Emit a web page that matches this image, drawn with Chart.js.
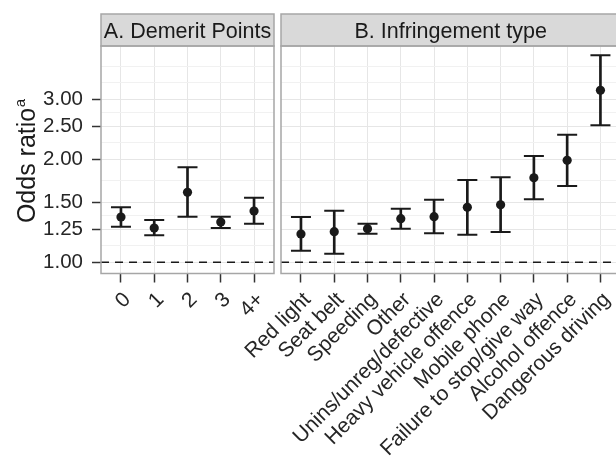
<!DOCTYPE html>
<html><head><meta charset="utf-8">
<script src="https://cdn.jsdelivr.net/npm/chart.js@4"></script>
<style>
html,body{margin:0;padding:0;background:#fff;overflow:hidden;width:616px;height:457px}
#wrap{position:relative;width:616px;height:457px;overflow:hidden}
canvas{position:absolute;top:0}
</style></head><body>
<div id="wrap">
<canvas id="chartA" width="276" height="457" style="left:0"></canvas>
<canvas id="chartB" width="426" height="457" style="left:200px"></canvas>
</div>
<script>
// ---- data ----
const demeritCategories = ['0','1','2','3','4+'];
const demeritOR    = [1.357, 1.260, 1.603, 1.312, 1.413];
const demeritLower = [1.271, 1.200, 1.360, 1.260, 1.297];
const demeritUpper = [1.449, 1.330, 1.897, 1.360, 1.545];

const infringementCategories = ['Red light','Seat belt','Speeding','Other','Unins/unreg/defective','Heavy vehicle offence','Mobile phone','Failure to stop/give way','Alcohol offence','Dangerous driving'];
const infringementOR    = [1.210, 1.229, 1.254, 1.342, 1.360, 1.449, 1.474, 1.768, 1.988, 3.187];
const infringementLower = [1.081, 1.060, 1.213, 1.254, 1.216, 1.204, 1.226, 1.529, 1.672, 2.517];
const infringementUpper = [1.357, 1.416, 1.297, 1.435, 1.525, 1.741, 1.773, 2.047, 2.363, 4.034];

const yTickValues = [1.00, 1.25, 1.50, 2.00, 2.50, 3.00];
const referenceValue = 1.00;
const panelTitles = ['A. Demerit Points', 'B. Infringement type'];
const yTitle = 'Odds ratio';
const yTitleSup = 'a';

// ---- styling / layout ----
const FONT = '"Liberation Sans", Arial, Helvetica, sans-serif';
const INK = '#1a1a1a';
const Y_MIN = 0.9273, Y_MAX = 4.297;
const TOP = 46, STRIP_TOP = 14;
const X_H = 457 - 273.5;

// minor grid (midpoints in log space, like ggplot)
const logs = yTickValues.map(Math.log);
const bd = logs[1] - logs[0];
const ext = [logs[0] - bd, ...logs, logs[logs.length - 1] + bd];
const gridLogs = [];
for (let i = 0; i < ext.length - 1; i++) { gridLogs.push(ext[i], (ext[i] + ext[i + 1]) / 2); }
gridLogs.push(ext[ext.length - 1]);
const gridValues = gridLogs.map(Math.exp).filter(v => v >= Y_MIN && v <= Y_MAX);
const isMajor = t => t && yTickValues.some(m => Math.abs(m - t.value) < 1e-9);

function noPad(s) { s.paddingLeft = 0; s.paddingRight = 0; s.paddingTop = 0; s.paddingBottom = 0; }

function yScale(showLabels, width) {
  return {
    type: 'logarithmic', min: Y_MIN, max: Y_MAX,
    afterBuildTicks: s => { s.ticks = gridValues.map(v => ({ value: v })); },
    afterFit: s => { s.width = width; noPad(s); },
    ticks: {
      display: showLabels, autoSkip: false, padding: 9, color: '#262626',
      font: { family: FONT, size: 20.5 },
      callback: v => { const m = yTickValues.find(t => Math.abs(t - v) < 1e-9); return m === undefined ? '' : m.toFixed(2); }
    },
    grid: {
      color: c => isMajor(c.tick) ? '#e6e6e6' : '#f1f1f1',
      lineWidth: 1, drawTicks: showLabels, tickLength: 9, tickWidth: 1.5,
      tickColor: c => isMajor(c.tick) ? '#333' : 'rgba(0,0,0,0)'
    },
    border: { display: false }
  };
}
function xScale(cats) {
  return {
    type: 'linear', min: -0.6, max: cats.length - 1 + 0.6, offset: false,
    afterBuildTicks: s => { s.ticks = cats.map((c, i) => ({ value: i })); },
    afterFit: s => { s.height = X_H; noPad(s); },
    ticks: {
      autoSkip: false, minRotation: 45, maxRotation: 45, padding: 5, labelOffset: 6.5, color: '#262626',
      font: { family: FONT, size: 21 },
      callback: v => cats[v]
    },
    grid: { offset: false, color: '#e6e6e6', lineWidth: 1, tickLength: 9, tickWidth: 1.5, tickColor: '#333' },
    border: { display: false }
  };
}

function panelPlugin(title, drawYTitle) {
  return {
    id: 'panel',
    beforeDatasetsDraw(chart) {
      const { ctx, chartArea: a, scales } = chart;
      const y = scales.y.getPixelForValue(referenceValue);
      ctx.save();
      ctx.strokeStyle = INK; ctx.lineWidth = 1.6; ctx.setLineDash([8, 6]);
      ctx.beginPath(); ctx.moveTo(a.left, y); ctx.lineTo(a.right, y); ctx.stroke();
      ctx.restore();
    },
    afterDraw(chart) {
      const { ctx, chartArea: a } = chart;
      ctx.save();
      ctx.fillStyle = '#d9d9d9';
      ctx.fillRect(a.left, STRIP_TOP, a.right - a.left, a.top - STRIP_TOP);
      ctx.strokeStyle = '#a6a6a6'; ctx.lineWidth = 1.5;
      ctx.strokeRect(a.left, STRIP_TOP, a.right - a.left, a.top - STRIP_TOP);
      ctx.strokeRect(a.left, a.top, a.right - a.left, a.bottom - a.top);
      ctx.fillStyle = INK; ctx.font = '21.5px ' + FONT;
      ctx.textAlign = 'center'; ctx.textBaseline = 'alphabetic';
      ctx.fillText(title, (a.left + a.right) / 2, 37.5);
      if (drawYTitle) {
        ctx.font = '25px ' + FONT;
        const w1 = ctx.measureText(yTitle).width;
        ctx.font = '15px ' + FONT;
        const w2 = ctx.measureText(yTitleSup).width;
        const cy = (a.top + a.bottom) / 2 + 1.5;
        const start = cy + (w1 + w2) / 2;
        ctx.translate(35, 0); ctx.rotate(-Math.PI / 2);
        ctx.textAlign = 'left';
        ctx.font = '25px ' + FONT; ctx.fillStyle = '#1a1a1a';
        ctx.fillText(yTitle, -start, 0);
        ctx.font = '15px ' + FONT;
        ctx.fillText(yTitleSup, -start + w1 + 0.5, -10);
      }
      ctx.restore();
    }
  };
}

function makeChart(id, cats, or, lo, hi, title, yOpts, padRight, isFirst) {
  const pts = arr => cats.map((c, i) => ({ x: i, y: arr[i] }));
  return new Chart(document.getElementById(id), {
    type: 'bar',
    data: {
      datasets: [
        { type: 'bar', data: cats.map((c, i) => ({ x: i, y: [lo[i], hi[i]] })), backgroundColor: INK, barThickness: 2, order: 4 },
        { type: 'line', data: pts(hi), showLine: false, pointStyle: 'line', pointRadius: 10, pointBorderColor: INK, pointBorderWidth: 2, borderColor: INK, order: 3 },
        { type: 'line', data: pts(lo), showLine: false, pointStyle: 'line', pointRadius: 10, pointBorderColor: INK, pointBorderWidth: 2, borderColor: INK, order: 2 },
        { type: 'line', data: pts(or), showLine: false, pointStyle: 'circle', pointRadius: 4.6, pointBackgroundColor: INK, pointBorderWidth: 0, order: 1 }
      ]
    },
    options: {
      responsive: false, animation: false, devicePixelRatio: 1,
      layout: { autoPadding: false, padding: { left: 0, right: padRight, top: TOP, bottom: 0 } },
      plugins: { legend: { display: false }, tooltip: { enabled: false }, title: { display: false } },
      scales: { x: xScale(cats), y: yOpts }
    },
    plugins: [panelPlugin(title, isFirst)]
  });
}

makeChart('chartA', demeritCategories, demeritOR, demeritLower, demeritUpper, panelTitles[0], yScale(true, 101), 2, true);
makeChart('chartB', infringementCategories, infringementOR, infringementLower, infringementUpper, panelTitles[1], yScale(false, 81), 5.6, false);
</script>
</body></html>
